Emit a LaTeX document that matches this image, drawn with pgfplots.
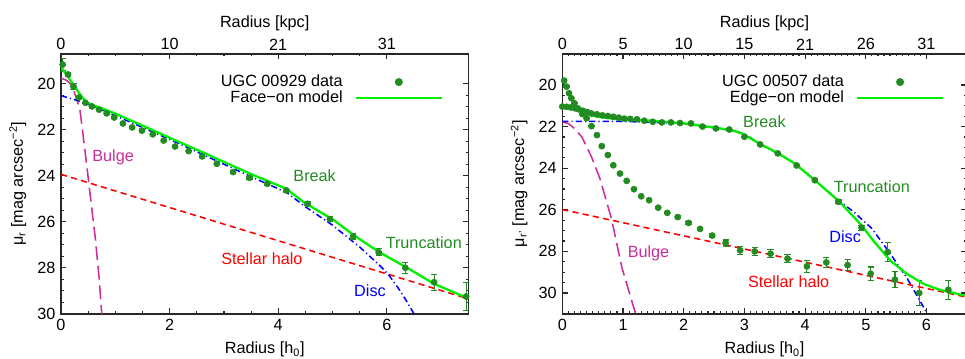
\documentclass[border=0pt]{standalone}
\usepackage{fontspec}
\setmainfont{Liberation Sans}
\usepackage{pgfplots}
\usepackage{pgfplotstable}
\pgfplotsset{compat=1.18}
\definecolor{dgreen}{RGB}{34,139,34}
\definecolor{lgreen}{RGB}{0,240,0}
\definecolor{mblue}{RGB}{0,0,255}
\definecolor{mred}{RGB}{255,0,0}
\definecolor{mmag}{RGB}{205,45,155}
\definecolor{axc}{RGB}{40,40,40}

% ---------------- left panel (UGC 00929) ----------------
\pgfplotstableread{
x y e
0.03 19.17 0.28
0.13 19.60 0.10
0.23 20.12 0.13
0.33 20.60 0.05
0.45 20.83 0.03
0.57 20.99 0.03
0.70 21.13 0.03
0.84 21.29 0.03
0.98 21.47 0.03
1.14 21.73 0.03
1.31 21.90 0.03
1.49 22.04 0.03
1.69 22.20 0.03
1.89 22.47 0.03
2.10 22.73 0.03
2.35 22.93 0.03
2.60 23.16 0.03
2.87 23.48 0.04
3.17 23.84 0.05
3.47 24.09 0.05
3.80 24.35 0.06
4.15 24.64 0.07
4.54 25.22 0.08
4.95 25.89 0.10
5.38 26.64 0.12
5.85 27.33 0.15
6.34 28.00 0.24
6.87 28.63 0.35
7.46 29.25 0.62
}\dataL
\pgfplotstableread{
x y
0.00 19.28
0.10 19.60
0.20 19.95
0.30 20.30
0.40 20.62
0.47 20.80
0.60 20.95
0.72 21.04
1.00 21.30
1.50 21.82
2.00 22.35
2.50 22.87
3.00 23.40
3.50 23.93
4.00 24.42
4.15 24.57
4.47 25.15
5.03 25.94
5.40 26.60
5.86 27.32
6.07 27.60
6.35 27.97
6.87 28.70
7.50 29.33
}\modelL
\pgfplotstableread{
x y
0.00 20.52
0.40 20.80
0.72 21.10
1.50 21.90
2.00 22.42
3.00 23.50
3.55 24.10
4.15 24.72
4.50 25.35
5.00 26.15
5.50 27.10
5.90 27.97
6.04 28.33
6.20 28.85
6.35 29.40
6.50 30.00
6.60 30.40
}\discL
\pgfplotstableread{
x y
0.00 23.94
7.50 29.35
}\haloL
\pgfplotstableread{
x y
0.00 19.76
0.10 19.85
0.20 20.07
0.30 20.75
0.35 21.16
0.40 22.10
0.49 23.87
0.56 25.30
0.63 26.67
0.70 28.40
0.75 30.00
0.77 30.60
}\bulgeL

% ---------------- right panel (UGC 00507) ----------------
\pgfplotstableread{
x y e
0.00 21.04 0.03
0.07 21.05 0.03
0.14 21.08 0.03
0.21 21.12 0.03
0.27 21.17 0.03
0.34 21.24 0.03
0.41 21.30 0.03
0.48 21.37 0.03
0.57 21.41 0.03
0.66 21.46 0.03
0.75 21.49 0.03
0.84 21.53 0.03
0.93 21.57 0.03
1.02 21.62 0.03
1.12 21.63 0.03
1.23 21.65 0.03
1.35 21.72 0.03
1.49 21.77 0.03
1.64 21.80 0.03
1.79 21.80 0.03
1.94 21.83 0.03
2.12 21.85 0.03
2.31 22.00 0.03
2.53 22.09 0.03
2.75 22.14 0.03
3.00 22.49 0.03
3.26 22.86 0.04
3.55 23.29 0.05
3.86 23.87 0.06
4.16 24.58 0.07
4.55 25.62 0.09
4.93 26.86 0.12
5.36 28.03 0.46
6.36 29.85 0.47
}\dataRa
\pgfplotstableread{
x y e
0.03 19.79 0.03
0.07 20.08 0.03
0.11 20.40 0.03
0.15 20.64 0.03
0.20 20.88 0.03
0.25 21.12 0.03
0.33 21.40 0.03
0.40 21.60 0.03
0.48 21.98 0.03
0.57 22.41 0.03
0.65 22.94 0.03
0.75 23.37 0.03
0.84 23.86 0.03
0.95 24.26 0.03
1.06 24.61 0.03
1.18 25.01 0.03
1.30 25.35 0.03
1.43 25.54 0.03
1.58 25.90 0.04
1.73 26.15 0.04
1.90 26.35 0.05
2.08 26.63 0.06
2.27 26.92 0.08
2.47 27.24 0.10
2.69 27.60 0.15
2.93 27.95 0.20
3.17 28.00 0.20
3.43 28.11 0.18
3.71 28.35 0.20
4.03 28.72 0.30
4.35 28.53 0.25
4.70 28.66 0.25
5.08 29.07 0.32
5.48 29.36 0.38
5.88 30.00 0.60
}\dataRb
\pgfplotstableread{
x y
0.37 21.37
0.59 21.53
0.92 21.65
1.47 21.72
2.02 21.85
2.53 22.06
2.79 22.17
2.96 22.33
3.26 22.84
3.55 23.27
3.83 23.78
4.16 24.58
4.57 25.62
4.93 26.75
5.12 27.47
5.40 28.43
5.67 29.07
5.95 29.56
6.22 29.85
6.66 30.14
}\modelR
\pgfplotstableread{
x y
0.00 21.75
1.00 21.75
2.00 21.85
2.50 22.05
2.80 22.20
3.00 22.35
3.30 22.90
3.55 23.30
3.85 23.80
4.15 24.55
4.55 25.55
4.80 26.10
5.10 26.90
5.40 28.10
5.67 29.24
6.00 30.93
6.05 31.20
}\discR
\pgfplotstableread{
x y
0.00 25.99
6.66 30.20
}\haloR
\pgfplotstableread{
x y
0.00 21.78
0.10 21.85
0.18 22.04
0.32 22.49
0.48 23.45
0.62 24.50
0.81 26.43
0.98 28.76
1.20 30.93
1.22 31.20
}\bulgeR

\pgfplotsset{
  panel/.style={
    scale only axis, height=67.6mm, y dir=reverse,
    axis line style={line width=0.4mm, axc},
    every tick/.style={axc, line width=0.3mm},
    major tick length=1.4mm, minor tick length=0.7mm,
    tick align=inside,
    /pgf/number format/assume math mode=true,
    ytick={20,22,24,26,28,30}, minor y tick num=3,
    clip=true,
  },
  mainp/.style={panel,
    xtick pos=both, ytick pos=both,
    xticklabel pos=lower, yticklabel pos=left,
    xlabel={Radius [h\textsubscript{0}]},
    legend style={draw=none, fill=none, inner sep=0pt, outer sep=0pt,
      row sep=0.4mm, nodes={inner sep=0pt},
      /tikz/every odd column/.append style={column sep=3.1mm}},
    legend plot pos=right, legend cell align=right,
  },
  topp/.style={panel, axis x line*=top, axis y line=none,
    xtick style={draw=none}, minor x tick num=0,
    xticklabel style={yshift=-0.5mm},
    xlabel style={yshift=-0.9mm},
    xlabel={Radius [kpc]}},
  datast/.style={only marks, mark=*, mark size=0.8mm, dgreen,
    mark options={draw=dgreen, fill=dgreen},
    error bars/y dir=both, error bars/y explicit,
    error bars/error bar style={line width=0.3mm, dgreen},
    error bars/error mark options={rotate=90, mark size=0.8mm, line width=0.3mm, dgreen}},
  dataleg/.style={legend image code/.code={%
      \path[draw=none, fill=none] (0mm,0mm) -- (22.4mm,0mm);
      \fill[dgreen, draw=none] (11.2mm,0mm) circle[radius=1.05mm];}},
  modelst/.style={lgreen, line width=0.6mm,
    legend image code/.code={\draw[lgreen, line width=0.6mm] (0mm,0mm) -- (22.4mm,0mm);}},
  discst/.style={mblue, line width=0.4mm, dash pattern=on 1.6mm off 0.8mm on 0.3mm off 0.8mm},
  halost/.style={mred, line width=0.4mm, dash pattern=on 1.6mm off 1.1mm},
  bulgest/.style={mmag, line width=0.4mm, dash pattern=on 3.6mm off 1.5mm},
}

\begin{document}
\fontsize{12pt}{14pt}\selectfont
\begin{tikzpicture}
\useasboundingbox (0,0) rectangle (250.9mm,93.08mm);

% ===== left panel =====
\begin{axis}[mainp, at={(15.86mm,11.5mm)}, anchor=south west, width=105.9mm,
  xmin=0, xmax=7.5, ymin=18.7, ymax=30,
  xtick={0,2,4,6}, minor x tick num=3,
  ylabel={μ\textsubscript{r} [mag arcsec\textsuperscript{−2}]},
  legend style={at={(rel axis cs:0.938,0.861)}, anchor=east}]
\addplot[halost, forget plot] table[x=x,y=y] {\haloL};
\addplot[bulgest, forget plot] table[x=x,y=y] {\bulgeL};
\addplot[discst, forget plot] table[x=x,y=y] {\discL};
\addplot[datast, dataleg] table[x=x,y=y,y error=e] {\dataL};
\addlegendentry{UGC 00929 data}
\addplot[modelst] table[x=x,y=y] {\modelL};
\addlegendentry{Face−on model}
\node[mmag] at (axis cs:0.96,23.2) {Bulge};
\node[dgreen] at (axis cs:4.67,23.99) {Break};
\node[dgreen] at (axis cs:6.68,26.89) {Truncation};
\node[mred] at (axis cs:3.7,27.6) {Stellar halo};
\node[mblue] at (axis cs:5.69,28.99) {Disc};
\end{axis}
\begin{axis}[topp, at={(15.86mm,11.5mm)}, anchor=south west, width=105.9mm,
  xmin=0, xmax=7.5, ymin=18.7, ymax=30,
  xtick={0,2,4,6}, xticklabels={0,10,21,31}]
\addplot[draw=none] coordinates {(0,20)};
\end{axis}

% ===== right panel =====
\begin{axis}[mainp, at={(146.2mm,11.5mm)}, anchor=south west, width=105.1mm,
  xmin=0, xmax=6.66, ymin=18.5, ymax=31,
  xtick={0,1,2,3,4,5,6}, minor x tick num=9,
  ylabel={μ\textsubscript{r'} [mag arcsec\textsuperscript{−2}]},
  legend style={at={(rel axis cs:0.945,0.861)}, anchor=east}]
\addplot[halost, forget plot] table[x=x,y=y] {\haloR};
\addplot[bulgest, forget plot] table[x=x,y=y] {\bulgeR};
\addplot[discst, forget plot] table[x=x,y=y] {\discR};
\addplot[datast, forget plot] table[x=x,y=y,y error=e] {\dataRb};
\addplot[datast, dataleg] table[x=x,y=y,y error=e] {\dataRa};
\addlegendentry{UGC 00507 data}
\addplot[modelst] table[x=x,y=y] {\modelR};
\addlegendentry{Edge−on model}
\node[dgreen] at (axis cs:3.33,21.77) {Break};
\node[dgreen] at (axis cs:5.10,24.87) {Truncation};
\node[mblue] at (axis cs:4.66,27.28) {Disc};
\node[mmag] at (axis cs:1.42,28.08) {Bulge};
\node[mred] at (axis cs:3.73,29.48) {Stellar halo};
\end{axis}
\begin{axis}[topp, at={(146.2mm,11.5mm)}, anchor=south west, width=105.1mm,
  xmin=0, xmax=6.66, ymin=18.5, ymax=31,
  xtick={0,1,2,3,4,5,6}, xticklabels={0,5,10,15,21,26,31}]
\addplot[draw=none] coordinates {(0,20)};
\end{axis}
\end{tikzpicture}
\end{document}
